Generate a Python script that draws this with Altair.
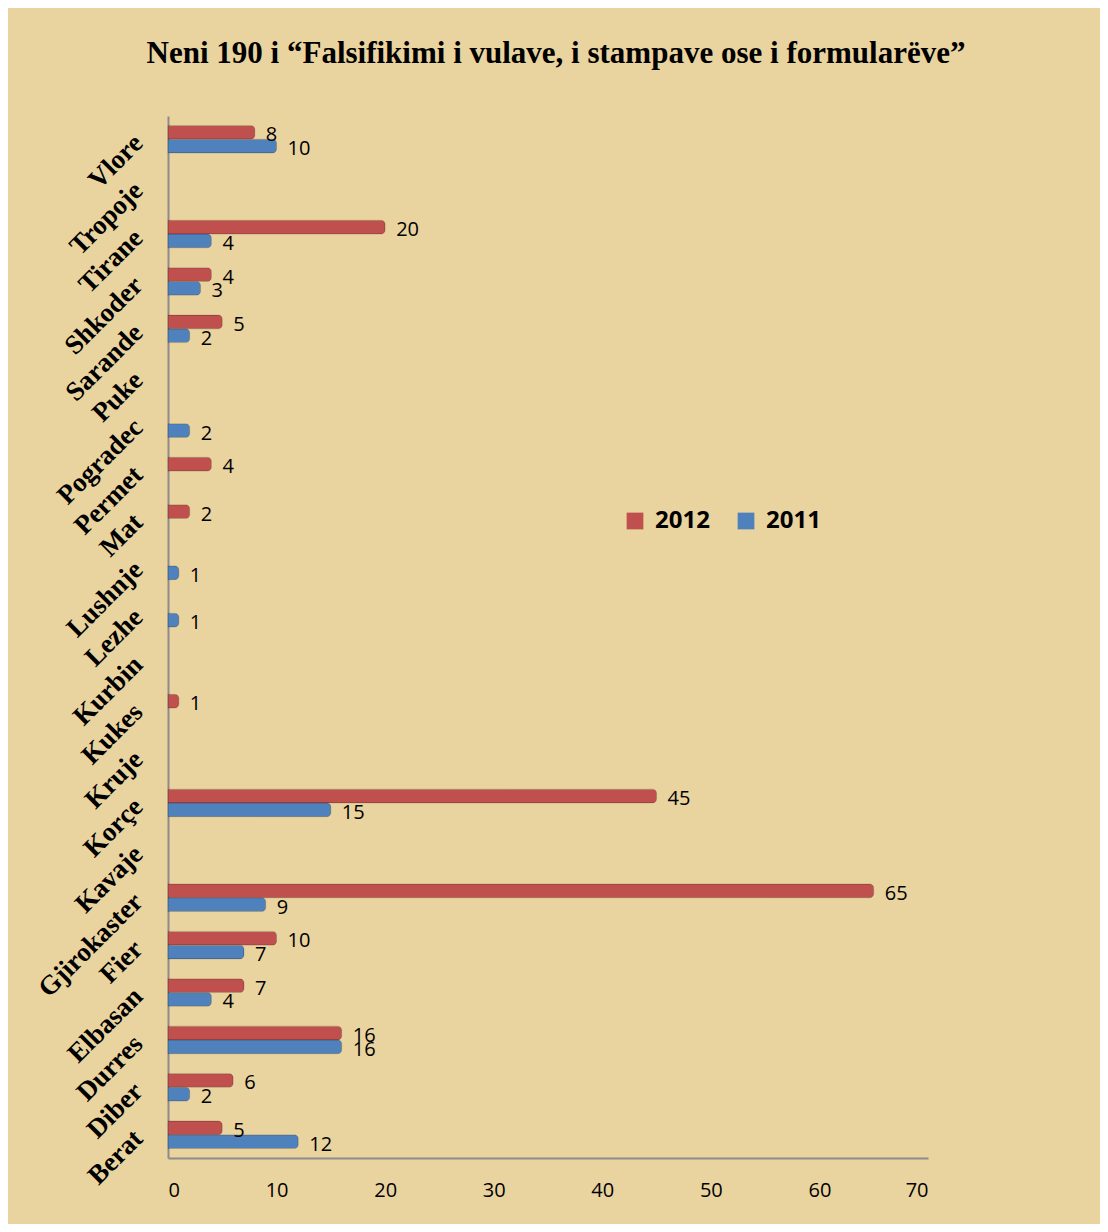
import altair as alt
import pandas as pd

categories = ["Berat", "Diber", "Durres", "Elbasan", "Fier", "Gjirokaster", "Kavaje",
              "Korçe", "Kruje", "Kukes", "Kurbin", "Lezhe", "Lushnje", "Mat", "Permet",
              "Pogradec", "Puke", "Sarande", "Shkoder", "Tirane", "Tropoje", "Vlore"]
v2012 = [5, 6, 16, 7, 10, 65, None, 45, None, 1, None, None, None, 2, 4,
         None, None, 5, 4, 20, None, 8]
v2011 = [12, 2, 16, 4, 7, 9, None, 15, None, None, None, 1, 1, None, None,
         2, None, 2, 3, 4, None, 10]
series = ["2012", "2011"]
colors = ["#C0504D", "#4F81BD"]
x_ticks = [0, 10, 20, 30, 40, 50, 60, 70]

rows = []
for c, a, b in zip(categories, v2012, v2011):
    rows.append({"cat": c, "year": "2012", "val": a})
    rows.append({"cat": c, "year": "2011", "val": b})
df = pd.DataFrame(rows)
df_bars = df.dropna()

order = list(reversed(categories))

y_enc = alt.Y("cat:N", sort=order,
              scale=alt.Scale(domain=order, paddingInner=0.42),
              axis=alt.Axis(title=None, labelAngle=-45, labelAlign="right",
                            labelBaseline="middle", labelFont="Liberation Serif",
                            labelFontWeight="bold", labelFontSize=27, labelColor="#000000",
                            labelPadding=30, ticks=False, domainColor="#8C8C8C",
                            domainWidth=2, grid=False))
x_enc = alt.X("val:Q", scale=alt.Scale(domain=[0, 70], nice=False),
              axis=alt.Axis(title=None, values=x_ticks, ticks=False, grid=False,
                            labelFont="Open Sans", labelFontSize=20, labelColor="#000000",
                            labelPadding=22, domainColor="#8C8C8C", domainWidth=2))
yoff = alt.YOffset("year:N", sort=series, scale=alt.Scale(domain=series))

bars = alt.Chart(df_bars).mark_bar(cornerRadiusEnd=4, stroke="#00000030", strokeWidth=0.8).encode(
    y=y_enc, x=x_enc, yOffset=yoff,
    color=alt.Color("year:N", scale=alt.Scale(domain=series, range=colors),
                    legend=alt.Legend(title=None, orient="none", legendX=455, legendY=393,
                                      direction="horizontal", symbolType="square",
                                      symbolSize=280, symbolStrokeWidth=0,
                                      labelFont="Open Sans", labelFontWeight="bold",
                                      labelFontSize=24, labelColor="#000000",
                                      columnPadding=24, labelOffset=8)),
)

labels = alt.Chart(df_bars).mark_text(align="left", baseline="middle", dx=11, dy=3,
                                      font="Open Sans", fontSize=20, color="#000000").encode(
    y=alt.Y("cat:N", sort=order), x="val:Q", yOffset=yoff,
    text=alt.Text("val:Q", format="d"),
)

chart = (bars + labels).properties(
    width=760, height=1042,
    background="#E9D39F",
    padding={"left": 160, "top": 108, "right": 172, "bottom": 66},
    autosize=alt.AutoSizeParams(type="none"),
    title=alt.TitleParams("Neni 190 i “Falsifikimi i vulave, i stampave ose i formularëve”",
                          font="Liberation Serif", fontSize=31, fontWeight="bold",
                          color="#000000", anchor="middle", offset=46, dx=8),
).configure_view(stroke=None)

chart.save("out.html", embed_options={"renderer": "svg", "actions": False})
